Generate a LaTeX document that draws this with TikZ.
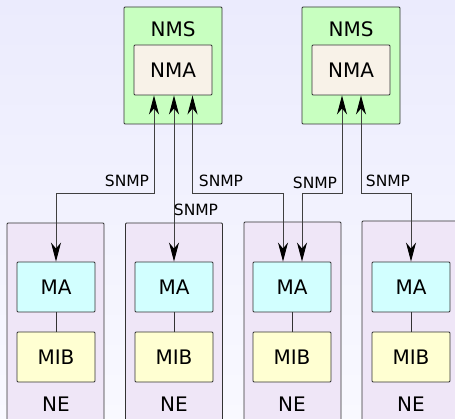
\documentclass[tikz,border=0pt]{standalone}
\usepackage{fontspec}
\setmainfont{DejaVu Sans}
\usetikzlibrary{arrows.meta}

\definecolor{bgtop}{HTML}{EBEBFD}
\definecolor{bgbot}{HTML}{F9F9FF}
\definecolor{nmsfill}{HTML}{C8FFC0}
\definecolor{nmafill}{HTML}{F8F2E8}
\definecolor{nefill}{HTML}{EFE6F7}
\definecolor{mafill}{HTML}{D2FFFF}
\definecolor{mibfill}{HTML}{FFFFD2}

\tikzset{
  box/.style={draw=black!80, line width=0.9pt, rounded corners=1pt, inner sep=0pt},
  nmsbox/.style={box, fill=nmsfill, minimum width=98pt, minimum height=117pt},
  nebox/.style={box, fill=nefill, minimum width=97pt, minimum height=204pt},
  inbox/.style={box, minimum width=78pt, minimum height=50pt,
    font=\fontsize{20}{24}\selectfont},
  title/.style={font=\fontsize{20}{24}\selectfont, inner sep=0pt},
  proto/.style={font=\fontsize{15.5}{18}\selectfont, inner sep=0pt},
  tip/.tip={Stealth[length=19pt,width=10pt,inset=6pt,color=black]},
  link/.style={draw=black!75, line width=0.9pt, tip-tip},
}

\begin{document}
\begin{tikzpicture}[x=1pt, y=-1pt]

\clip (0,0) rectangle (455,419);
\shade[top color=bgtop, bottom color=bgbot] (0,0) rectangle (455,419);

% managers
\node [nmsbox] (nms1) at (173,65.5) {};
\node [nmsbox] (nms2) at (351,65.5) {};
\node [title] (nmst1) at (173,29) {NMS};
\node [title] (nmst2) at (351,29) {NMS};
\node [inbox, fill=nmafill] (nma1) at (173,70) {NMA};
\node [inbox, fill=nmafill] (nma2) at (351,70) {NMA};

% network elements
\node [nebox] (ne1) at (55.5,325) {};
\node [nebox] (ne2) at (174,325) {};
\node [nebox] (ne3) at (292.5,324) {};
\node [nebox] (ne4) at (410.5,323) {};

\node [inbox, fill=mafill] (ma1) at (56,287) {MA};
\node [inbox, fill=mafill] (ma2) at (174,287) {MA};
\node [inbox, fill=mafill] (ma3) at (292,287) {MA};
\node [inbox, fill=mafill] (ma4) at (411,287) {MA};

\node [inbox, fill=mibfill] (mib1) at (56,357) {MIB};
\node [inbox, fill=mibfill] (mib2) at (174,357) {MIB};
\node [inbox, fill=mibfill] (mib3) at (292,357) {MIB};
\node [inbox, fill=mibfill] (mib4) at (411,357) {MIB};

\node [title] (net1) at (56,404) {NE};
\node [title] (net2) at (174,404) {NE};
\node [title] (net3) at (292,404) {NE};
\node [title] (net4) at (411,404) {NE};

\draw [draw=black!80, line width=0.9pt] (ma1) -- (mib1);
\draw [draw=black!80, line width=0.9pt] (ma2) -- (mib2);
\draw [draw=black!80, line width=0.9pt] (ma3) -- (mib3);
\draw [draw=black!80, line width=0.9pt] (ma4) -- (mib4);

% snmp links
\coordinate (lvl) at (0,193);
\coordinate (p1) at ([xshift=-19pt]nma1.south);
\coordinate (p2) at ([xshift=19.5pt]nma1.south);
\coordinate (p3) at ([xshift=-9pt]nma2.south);
\coordinate (p4) at ([xshift=10pt]nma2.south);
\coordinate (q1) at ([xshift=-9pt]ma3.north);
\coordinate (q2) at ([xshift=10pt]ma3.north);

\draw [link] (p1) |- (lvl -| ma1.north) -- (ma1.north);
\draw [link] (nma1.south -| ma2.north) -- (ma2.north);
\draw [link] (p2) |- (lvl -| q1) -- (q1);
\draw [link] (p3) |- (lvl -| q2) -- (q2);
\draw [link] (p4) |- (lvl -| ma4.north) -- (ma4.north);

\node [proto] (s1) at (127,181) {SNMP};
\node [proto] (s2) at (196,210) {SNMP};
\node [proto] (s3) at (221,181) {SNMP};
\node [proto] (s4) at (315,183) {SNMP};
\node [proto] (s5) at (388,181) {SNMP};

\end{tikzpicture}
\end{document}
